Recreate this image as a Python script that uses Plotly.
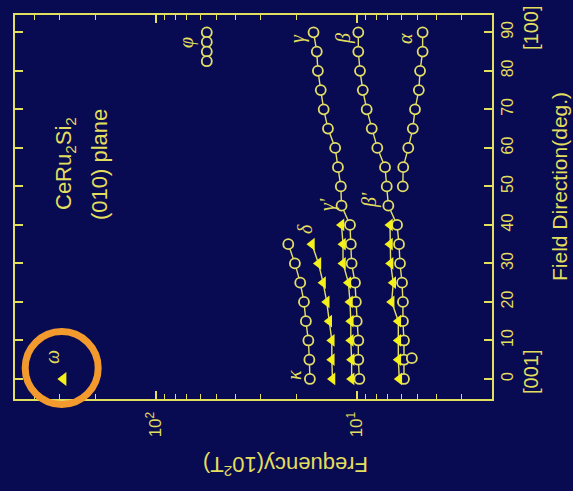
import plotly.graph_objects as go

# ---------------- data (frequency in units of 10^2 T, field angle in deg) ----------------
deg_main = [90, 85, 80, 75, 70, 65, 60, 55, 50, 45, 40, 35, 30, 25, 20, 15, 10, 5, 0]
gamma_f = [16.4, 15.8, 15.6, 15.1, 14.6, 13.9, 12.8, 12.4, 12.0, 11.9,
           10.8, 10.7, 10.6, 10.2, 10.1, 10.0, 9.82, 9.82, 9.70]
beta_f = [9.82, 9.82, 9.63, 9.33, 8.92, 8.42, 7.90, 7.23, 7.09, 6.96,
          6.30, 6.16, 6.09, 5.95, 5.89, 5.89, 5.82, 5.82, 5.82]

deg_alpha = [90, 85, 80, 75, 70, 65, 60, 55, 50]
alpha_f = [4.70, 4.70, 4.84, 4.91, 5.13, 5.26, 5.54, 5.87, 5.90]

deg_low = [40, 35, 30, 25, 20, 15, 10, 5, 0]
gamma_p_tri = [11.9, 11.7, 11.7, 11.0, 10.8, 10.7, 10.7, 10.6, 10.6]
beta_p_tri = [6.83, 6.83, 6.78, 6.58, 6.70, 6.21, 6.21, 6.21, 6.14]

deg_kd = [35, 30, 25, 20, 15, 10, 5, 0]
kappa_f = [21.9, 20.3, 19.1, 18.3, 17.9, 17.4, 17.2, 17.1]
delta_f = [16.7, 15.5, 14.7, 14.1, 13.7, 13.3, 13.3, 13.2]

deg_phi = [90, 87.5, 85, 82.5]
phi_f = [55.7, 55.7, 55.7, 55.7]

deg_omega = [0]
omega_f = [288]

deg_extra = [5.4]
extra_f = [5.32]

field_ticks = [0, 10, 20, 30, 40, 50, 60, 70, 80, 90]
freq_major = [10, 100]
freq_major_text = ["10<sup>1</sup>", "10<sup>2</sup>"]
freq_minor = [3, 4, 5, 6, 7, 8, 9, 20, 30, 40, 50, 60, 70, 80, 90, 200, 300, 400, 500]

# ---------------- style ----------------
BG = "#090b52"
TXT = "#e2de5e"
CIRC = "#e2de66"
TRI = "#f4f01c"
ORANGE = "#f39a2e"
W, H = 573, 491
L, R, T, B = 15, 81, 15, 92
PW, PH = W - L - R, H - T - B


def px(x, y):
    return (x - L) / PW, (H - B - y) / PH


fig = go.Figure()


def circles(x, y, mode="lines+markers"):
    fig.add_trace(go.Scatter(
        x=x, y=y, mode=mode, showlegend=False,
        line=dict(color=CIRC, width=1.4),
        marker=dict(symbol="circle", size=10, color=BG,
                    line=dict(color=CIRC, width=1.8))))


def triangles(x, y):
    fig.add_trace(go.Scatter(
        x=x, y=y, mode="lines+markers", showlegend=False,
        line=dict(color=CIRC, width=1.4),
        marker=dict(symbol="triangle-left", size=11, color=TRI,
                    line=dict(width=0))))


circles(gamma_f, deg_main)
circles(beta_f, deg_main)
circles(alpha_f, deg_alpha)
circles(kappa_f, deg_kd)
circles(phi_f, deg_phi, mode="markers")
circles(extra_f, deg_extra, mode="markers")
triangles(gamma_p_tri, deg_low)
triangles(beta_p_tri, deg_low)
triangles(delta_f, deg_kd)
fig.add_trace(go.Scatter(x=omega_f, y=deg_omega, mode="markers", showlegend=False,
                         marker=dict(symbol="triangle-left", size=12, color=TRI)))

annotations = []


def ann(text, x, y, size, serif=False, angle=-90):
    ax, ay = px(x, y)
    annotations.append(dict(
        text=text, x=ax, y=ay, xref="paper", yref="paper",
        xanchor="center", yanchor="middle", showarrow=False, textangle=angle,
        font=dict(size=size, color=TXT,
                  family="Liberation Serif" if serif else "Liberation Sans")))


for t, x, y in [("ω", 52, 357), ("κ", 294, 375), ("δ", 305, 229),
                ("γ'", 327, 205), ("β'", 369, 200), ("γ", 297, 39),
                ("β", 343, 39), ("α", 405, 39), ("φ", 187, 43)]:
    ann("<i>%s</i>" % t, x, y, 20, serif=True)

ann("CeRu<sub>2</sub>Si<sub>2</sub>", 65, 164, 22)
ann("(010) plane", 99, 165, 22)
ann("Field Direction(deg.)", 559, 187, 21)
ann("[001]", 531, 372, 20)
ann("[100]", 531, 28, 20)
ann("Frequency(10<sup>2</sup>T)", 286, 466, 22, angle=180)

cx0, cy0 = px(25.2, 404.5)
cx1, cy1 = px(98.2, 331.5)

fig.update_layout(
    width=W, height=H,
    margin=dict(l=L, r=R, t=T, b=B, pad=0),
    paper_bgcolor=BG, plot_bgcolor=BG,
    annotations=annotations,
    shapes=[dict(type="circle", xref="paper", yref="paper",
                 x0=cx0, x1=cx1, y0=cy0, y1=cy1, layer="above",
                 line=dict(color=ORANGE, width=7))],
    xaxis=dict(type="log", range=[2.700, 0.327], showgrid=False, zeroline=False,
               showline=True, linecolor=TXT, linewidth=2, mirror="allticks",
               ticks="inside", ticklen=8, tickwidth=1.5, tickcolor=TXT,
               tickvals=freq_major, ticktext=freq_major_text, tickangle=-90,
               ticklabelstandoff=4,
               tickfont=dict(size=17, color=TXT, family="Liberation Sans"),
               minor=dict(tickvals=freq_minor, ticks="inside", ticklen=5,
                          tickwidth=1.3, tickcolor=TXT, showgrid=False)),
    yaxis=dict(range=[-5.2, 94.5], side="right", showgrid=False, zeroline=False,
               showline=True, linecolor=TXT, linewidth=2, mirror="allticks",
               ticks="inside", ticklen=8, tickwidth=1.5, tickcolor=TXT,
               tickvals=field_ticks, tickangle=-90,
               tickfont=dict(size=16, color=TXT, family="Liberation Sans")),
)

fig.write_html("out.html")
